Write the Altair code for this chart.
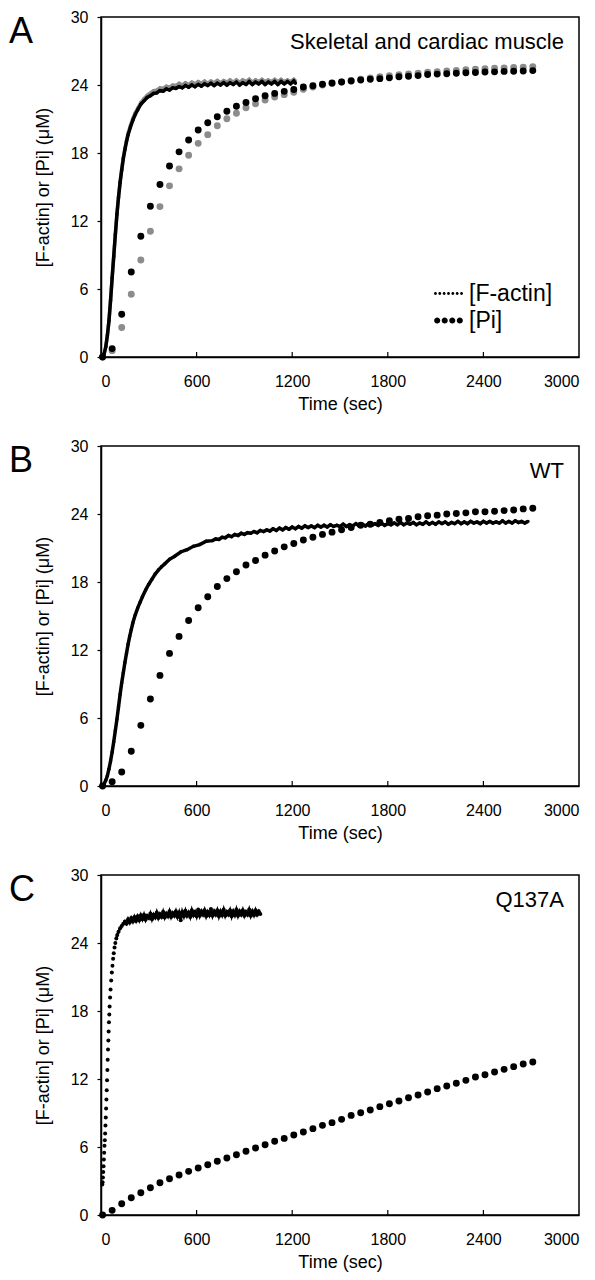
import altair as alt
import pandas as pd

FONT = "Liberation Sans"
BLACK = "#000000"
GRAY = "#8c8c8c"

# ---------------- Pi sampling times (sec) ----------------
PI_T = [10, 70, 130, 190, 250, 310, 370, 430, 490, 550, 610, 670, 730, 790, 850,
        910, 970, 1030, 1090, 1150, 1210, 1270, 1330, 1390, 1450, 1510, 1570, 1630,
        1690, 1750, 1810, 1870, 1930, 1990, 2050, 2110, 2170, 2230, 2290, 2350, 2410,
        2470, 2530, 2590, 2650, 2710]

# Panel A: Pi (black and gray sets)
A_PI_BLACK = [0.0, 0.74, 3.78, 7.5, 10.65, 13.3, 15.22, 16.85, 18.1, 19.15, 20.03,
              20.67, 21.2, 21.68, 22.12, 22.46, 22.78, 23.05, 23.26, 23.44, 23.6,
              23.82, 23.94, 24.06, 24.18, 24.26, 24.36, 24.44, 24.5, 24.56, 24.63,
              24.72, 24.78, 24.83, 24.92, 24.96, 24.99, 25.03, 25.08, 25.1, 25.14,
              25.16, 25.2, 25.21, 25.24, 25.27]
A_PI_GRAY = [0.0, 0.56, 2.6, 5.53, 8.56, 11.1, 13.27, 15.1, 16.6, 17.8, 18.85,
             19.62, 20.4, 21.03, 21.5, 22.0, 22.35, 22.68, 22.94, 23.15, 23.35,
             23.62, 23.82, 24.0, 24.14, 24.27, 24.4, 24.52, 24.62, 24.72, 24.82,
             24.9, 24.98, 25.05, 25.12, 25.18, 25.23, 25.29, 25.34, 25.39, 25.43,
             25.47, 25.51, 25.55, 25.58, 25.62]
# Panel B: Pi
B_PI = [0.0, 0.38, 1.24, 3.06, 5.35, 7.68, 9.76, 11.7, 13.2, 14.6, 15.73, 16.7,
        17.6, 18.3, 18.9, 19.5, 19.9, 20.37, 20.74, 21.1, 21.4, 21.7, 21.95, 22.2,
        22.4, 22.6, 22.8, 23.0, 23.1, 23.25, 23.4, 23.55, 23.6, 23.75, 23.85, 23.9,
        24.0, 24.05, 24.1, 24.2, 24.2, 24.25, 24.3, 24.35, 24.45, 24.5]
# Panel C: Pi
C_PI = [0.0, 0.41, 1.0, 1.53, 1.97, 2.41, 2.85, 3.2, 3.53, 3.85, 4.15, 4.44, 4.74,
        5.03, 5.32, 5.62, 5.91, 6.2, 6.5, 6.76, 7.06, 7.32, 7.62, 7.91, 8.15, 8.44,
        8.79, 9.03, 9.26, 9.56, 9.82, 10.06, 10.35, 10.59, 10.85, 11.15, 11.38,
        11.62, 11.88, 12.18, 12.38, 12.62, 12.85, 13.09, 13.32, 13.5]

# ---------------- F-actin traces ----------------
FA_A_T = [0, 10, 20, 30, 40, 50, 60, 70, 80, 90, 100, 110, 120, 130, 140, 150, 160,
          170, 185, 200, 215, 230, 250, 270, 290, 310, 330, 350, 370, 390, 410, 430,
          450, 470, 490, 510, 530, 550, 570, 590, 610, 630, 650, 670, 690, 710, 730,
          750, 770, 790, 810, 830, 850, 870, 890, 910, 930, 950, 970, 990, 1010, 1030,
          1050, 1070, 1090, 1110, 1130, 1150, 1170, 1190, 1210, 1220]
FA_A_BLACK = [0.0, 0.05, 0.3, 0.9, 1.9, 3.2, 5.0, 7.0, 8.9, 10.8, 12.6, 14.1, 15.4,
              16.5, 17.5, 18.3, 19.0, 19.6, 20.3, 20.9, 21.4, 21.8,
              22.3, 22.6, 22.9, 23.05, 23.25, 23.3, 23.5, 23.45, 23.65, 23.55,
              23.75, 23.7, 23.85, 23.75, 23.95, 23.8, 24.0, 23.85, 24.05, 23.9,
              24.1, 23.95, 24.15, 23.95, 24.15, 24.0, 24.2, 24.0, 24.2, 24.05,
              24.25, 24.0, 24.2, 24.05, 24.3, 24.05, 24.25, 24.1, 24.3, 24.05,
              24.25, 24.1, 24.3, 24.05, 24.3, 24.1, 24.3, 24.1, 24.35, 24.15]
FA_A_GRAY = [0.0, 0.05, 0.3, 0.9, 1.9, 3.2, 5.0, 7.0, 8.9, 10.8, 12.6, 14.1, 15.5,
             16.6, 17.6, 18.4, 19.1, 19.75, 20.45, 21.05, 21.55, 21.95,
             22.45, 22.8, 23.1, 23.3, 23.5, 23.55, 23.75, 23.7, 23.9, 23.8,
             24.0, 23.95, 24.15, 24.0, 24.2, 24.05, 24.25, 24.1, 24.3, 24.15,
             24.35, 24.15, 24.35, 24.2, 24.4, 24.2, 24.4, 24.25, 24.45, 24.25,
             24.45, 24.25, 24.45, 24.3, 24.5, 24.25, 24.45, 24.3, 24.5, 24.3,
             24.45, 24.3, 24.5, 24.3, 24.5, 24.3, 24.45, 24.3, 24.5, 24.35]

FA_B_T = [0, 10, 20, 30, 40, 50, 60, 70, 80, 90, 100, 110, 120, 130, 140, 150, 160,
          170, 180, 190, 200, 215, 230, 245, 260, 280, 300, 320, 340, 360, 380, 400,
          430, 460, 500, 540, 580, 620, 660, 700,
          720, 740, 760, 780, 800, 820, 840, 860, 880, 900, 920, 940, 960, 980, 1000,
          1020, 1040, 1060, 1080, 1100, 1120, 1140, 1160, 1180, 1200, 1220, 1240,
          1260, 1280, 1300, 1320, 1340, 1360, 1380, 1400, 1420, 1440, 1460, 1480,
          1500, 1520, 1540, 1560, 1580, 1600, 1620, 1640, 1660, 1680, 1700, 1720,
          1740, 1760, 1780, 1800, 1820, 1840, 1860, 1880, 1900, 1920, 1940, 1960,
          1980, 2000, 2020, 2040, 2060, 2080, 2100, 2120, 2140, 2160, 2180, 2200,
          2220, 2240, 2260, 2280, 2300, 2320, 2340, 2360, 2380, 2400, 2420, 2440,
          2460, 2480, 2500, 2520, 2540, 2560, 2580, 2600, 2620, 2640, 2660, 2680]
FA_B = [0.0, 0.05, 0.2, 0.5, 0.9, 1.5, 2.2, 3.0, 3.9, 4.9, 5.9, 7.0, 8.1, 9.1, 10.0,
        10.9, 11.7, 12.5, 13.2, 13.8, 14.4, 15.1, 15.7, 16.2, 16.7, 17.3, 17.8, 18.25,
        18.7, 19.05, 19.35, 19.6, 20.0, 20.25, 20.65, 20.85, 21.15, 21.3, 21.6, 21.65,
        21.8, 21.75, 21.95, 21.9, 22.1, 22.0, 22.2, 22.1, 22.3, 22.2, 22.35, 22.3,
        22.45, 22.35, 22.55, 22.45, 22.6, 22.5, 22.7, 22.55, 22.75, 22.6, 22.8, 22.65,
        22.85, 22.7, 22.9, 22.75, 22.95, 22.8, 22.95, 22.8, 23.0, 22.85, 23.0, 22.85,
        23.05, 22.9, 23.0, 22.9, 23.1, 22.9, 23.05, 22.95, 23.15, 22.95, 23.1, 22.95,
        23.15, 23.0, 23.15, 23.0, 23.2, 23.0, 23.15, 23.05, 23.2, 23.05, 23.25, 23.05,
        23.2, 23.1, 23.25, 23.05, 23.2, 23.1, 23.3, 23.1, 23.25, 23.1, 23.3, 23.15,
        23.3, 23.1, 23.25, 23.15, 23.35, 23.15, 23.3, 23.15, 23.35, 23.2, 23.3, 23.15,
        23.35, 23.2, 23.35, 23.2, 23.3, 23.2, 23.4, 23.2, 23.35, 23.2, 23.4, 23.25,
        23.35, 23.2, 23.35]

FA_C_T = [8, 10, 12, 14, 16, 18, 20, 22, 24, 26, 28, 30, 32, 34, 36, 38, 40, 42, 44,
          46, 48, 50, 52, 54, 57, 60, 64, 68, 72, 76, 80, 85, 90, 96, 102, 110, 120,
          130, 140, 150, 160, 170, 180, 190, 200, 210, 220, 230, 240, 250, 260, 270,
          280, 290, 300, 310, 320, 330, 340, 350, 360, 370, 380, 390, 400, 410, 420,
          430, 440, 450, 460, 470, 480, 490, 500, 510, 520, 530, 540, 550, 560, 570,
          580, 590, 600, 610, 620, 630, 640, 650, 660, 670, 680, 690, 700, 710, 720,
          730, 740, 750, 760, 770, 780, 790, 800, 810, 820, 830, 840, 850, 860, 870,
          880, 890, 900, 910, 920, 930, 940, 950, 960, 970, 980, 990, 1000]
FA_C = [2.7, 2.9, 3.3, 3.8, 4.3, 4.9, 5.5, 6.1, 6.6, 7.2, 7.9, 8.6, 9.4, 10.2, 11.0,
        11.9, 12.8, 13.7, 14.6, 15.4, 16.2, 17.0, 17.7, 18.4, 19.2, 19.9, 20.7, 21.4,
        22.0, 22.6, 23.1, 23.6, 24.0, 24.4, 24.7, 25.0, 25.3, 25.5, 25.7,
        25.9, 25.7, 26.1, 25.8, 26.2, 25.9, 26.3, 25.95, 26.35, 26.0, 26.45, 26.1,
        26.5, 26.05, 26.4, 26.2, 26.6, 26.1, 26.5, 26.25, 26.7, 26.2, 26.55, 26.3,
        26.75, 26.25, 26.6, 26.35, 26.8, 26.3, 26.65, 26.4, 26.8, 26.3, 26.7, 26.0,
        26.75, 26.35, 26.85, 26.4, 26.7, 26.3, 26.9, 26.45, 26.75, 26.35, 26.95,
        26.4, 26.8, 26.5, 26.9, 26.35, 26.75, 26.45, 27.0, 26.4, 26.8, 26.5, 26.9,
        26.35, 26.8, 26.45, 26.95, 26.4, 26.75, 26.5, 26.9, 26.35, 26.8, 26.45,
        26.95, 26.4, 26.8, 26.5, 26.9, 26.4, 26.75, 26.5, 26.95, 26.4, 26.8, 26.45,
        26.9, 26.5, 26.8, 26.55]

X_LABELS = [0, 600, 1200, 1800, 2400, 3000]
X_INNER_TICKS = [600, 1200, 1800, 2400]
Y_TICKS = [0, 6, 12, 18, 24, 30]

W, H = 478, 340


def frame(t, v):
    return pd.DataFrame({"t": t, "v": v})


X_ENC = alt.X("t:Q", scale=alt.Scale(domain=[0, 3000], nice=False, zero=False),
              axis=alt.Axis(values=X_LABELS, format="d", title="Time (sec)", ticks=False,
                            labelPadding=16, titlePadding=6, grid=False))
Y_ENC = alt.Y("v:Q", scale=alt.Scale(domain=[0, 30], nice=False),
              axis=alt.Axis(values=Y_TICKS, format="d", title="[F-actin] or [Pi] (\u03bcM)",
                            tickSize=4, labelPadding=9, titlePadding=18, grid=False))


def fa_line(df, color, width=3.5, min_t=None):
    ch = alt.Chart(df).mark_line(color=color, strokeWidth=width)
    if min_t is not None:
        ch = ch.transform_filter(alt.datum.t >= min_t)
    return ch.encode(x=X_ENC, y=Y_ENC)


def fa_dots(df, color, size=12):
    return alt.Chart(df).mark_circle(color=color, size=size, opacity=1).encode(x=X_ENC, y=Y_ENC)


def pi_dots(df, color):
    return alt.Chart(df).mark_circle(color=color, size=48, opacity=1).encode(x=X_ENC, y=Y_ENC)


def decorations(letter, label):
    ticks = alt.Chart(pd.DataFrame({"t": X_INNER_TICKS})).mark_rule(
        color=BLACK, strokeWidth=1.2).encode(x=alt.X("t:Q"), y=alt.value(H), y2=alt.value(H - 5))
    let = alt.Chart(pd.DataFrame({"s": [letter]})).mark_text(
        fontSize=36, align="left", baseline="top", color=BLACK).encode(
        text="s:N", x=alt.value(-92), y=alt.value(-2))
    lab = alt.Chart(pd.DataFrame({"s": [label]})).mark_text(
        fontSize=22, align="right", baseline="middle", color=BLACK).encode(
        text="s:N", x=alt.value(W - 15), y=alt.value(25))
    return [ticks, let, lab]


def circles_path(centers, r):
    parts = []
    for cx in centers:
        parts.append(f"M{cx - r:.3f},0A{r},{r} 0 1,0 {cx + r:.3f},0A{r},{r} 0 1,0 {cx - r:.3f},0Z")
    return "".join(parts)


LEG_NAMES = ["[F-actin]", "[Pi]"]
LEG_SHAPES = [circles_path([-0.9, -0.6, -0.3, 0.0, 0.3, 0.6, 0.9], 0.1),
              circles_path([-0.78, -0.26, 0.26, 0.78], 0.21)]

legend_layer = alt.Chart(pd.DataFrame({"s": LEG_NAMES})).mark_point(
    filled=True, opacity=0, color=BLACK).encode(
    x=alt.value(0), y=alt.value(0),
    shape=alt.Shape("s:N", scale=alt.Scale(domain=LEG_NAMES, range=LEG_SHAPES),
                    legend=alt.Legend(title=None, orient="none", legendX=333, legendY=262,
                                      labelFontSize=23, labelFont=FONT, labelColor=BLACK,
                                      symbolSize=841, symbolFillColor=BLACK,
                                      symbolStrokeColor=BLACK,
                                      symbolStrokeWidth=0, symbolOpacity=1,
                                      rowPadding=-2, labelOffset=6)))

panel_a = alt.layer(
    fa_line(frame(FA_A_T, FA_A_GRAY), GRAY), fa_dots(frame(FA_A_T, FA_A_GRAY), GRAY),
    pi_dots(frame(PI_T, A_PI_GRAY), GRAY),
    fa_line(frame(FA_A_T, FA_A_BLACK), BLACK), fa_dots(frame(FA_A_T, FA_A_BLACK), BLACK),
    pi_dots(frame(PI_T, A_PI_BLACK), BLACK),
    *decorations("A", "Skeletal and cardiac muscle"),
    legend_layer,
).properties(width=W, height=H)

panel_b = alt.layer(
    fa_line(frame(FA_B_T, FA_B), BLACK), fa_dots(frame(FA_B_T, FA_B), BLACK),
    pi_dots(frame(PI_T, B_PI), BLACK),
    *decorations("B", "WT"),
).properties(width=W, height=H)

panel_c = alt.layer(
    fa_line(frame(FA_C_T, FA_C), BLACK, width=2.6, min_t=96),
    fa_dots(frame(FA_C_T, FA_C), BLACK, size=16),
    pi_dots(frame(PI_T, C_PI), BLACK),
    *decorations("C", "Q137A"),
).properties(width=W, height=H)

chart = alt.vconcat(panel_a, panel_b, panel_c, spacing=23).properties(
    padding=0, background="white"
).configure_view(stroke=BLACK, strokeWidth=1.5).configure_axis(
    domainColor=BLACK, domainWidth=1.5, tickColor=BLACK, tickWidth=1.2,
    labelColor=BLACK, titleColor=BLACK, labelFont=FONT, titleFont=FONT,
    labelFontSize=16, titleFontSize=18, titleFontWeight="normal"
).configure_text(font=FONT)

chart.save("out.html", embed_options={"renderer": "svg", "actions": False})
